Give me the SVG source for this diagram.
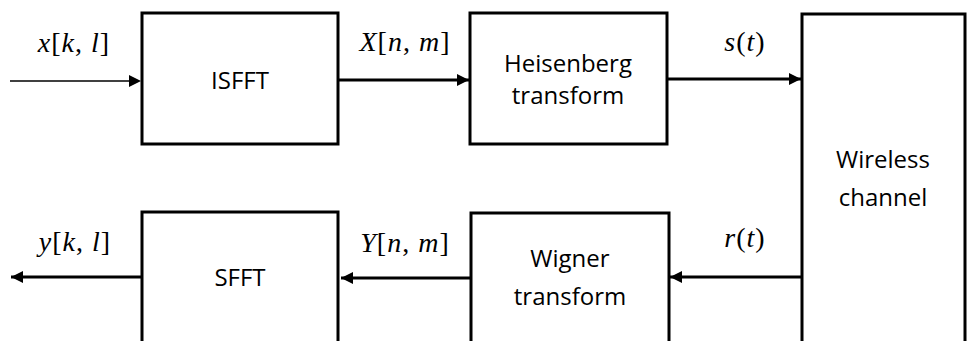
<svg xmlns="http://www.w3.org/2000/svg" width="967" height="341" viewBox="0 0 967 341">
<style>
.box{fill:#fff;stroke:#000;stroke-width:3}
.lbl{font-family:"Open Sans","Liberation Sans",Arial,sans-serif;font-size:24px;fill:#000;text-anchor:middle}
.math{font-family:"Liberation Serif","Times New Roman",serif;font-size:28px;letter-spacing:1px;fill:#000;text-anchor:middle}
.i{font-style:italic}
.c{stroke:#000;stroke-width:3;fill:none}
</style>
<defs>
<marker id="ah" viewBox="0 0 10 10" refX="10" refY="5" markerWidth="12" markerHeight="12" markerUnits="userSpaceOnUse" orient="auto">
<path d="M0,0 L10,5 L0,10 z" fill="#000"/>
</marker>
</defs>
<g id="connectors">
<line class="c" x1="10" y1="81" x2="131" y2="81" style="stroke-width:1.5"/>
<path d="M129,75 L141,81 L129,87 z" fill="#000"/>
<line class="c" x1="338" y1="80" x2="469" y2="80" marker-end="url(#ah)"/>
<line class="c" x1="667" y1="79" x2="801" y2="79" marker-end="url(#ah)"/>
<line class="c" x1="802" y1="277" x2="670" y2="277" marker-end="url(#ah)"/>
<line class="c" x1="471" y1="278" x2="341" y2="278" marker-end="url(#ah)"/>
<line class="c" x1="142" y1="277" x2="11" y2="277" marker-end="url(#ah)"/>
</g>
<g id="isfft"><rect class="box" x="142" y="13" width="196" height="131"/><text class="lbl" x="240" y="89">ISFFT</text></g>
<g id="heisenberg"><rect class="box" x="470" y="13" width="197" height="131"/><text class="lbl" x="568" y="72">Heisenberg</text><text class="lbl" x="568" y="104">transform</text></g>
<g id="channel"><rect class="box" x="802" y="14" width="163" height="340"/><text class="lbl" x="883" y="168">Wireless</text><text class="lbl" x="883" y="206">channel</text></g>
<g id="wigner"><rect class="box" x="471" y="213" width="198" height="140"/><text class="lbl" x="570" y="267">Wigner</text><text class="lbl" x="570" y="305">transform</text></g>
<g id="sfft"><rect class="box" x="142" y="212" width="196" height="140"/><text class="lbl" x="240" y="286">SFFT</text></g>
<g id="labels">
<text class="math" x="74" y="52"><tspan class="i">x</tspan>[<tspan class="i">k</tspan>, <tspan class="i">l</tspan>]</text>
<text class="math" x="405" y="51"><tspan class="i">X</tspan>[<tspan class="i">n</tspan>, <tspan class="i">m</tspan>]</text>
<text class="math" x="745" y="51"><tspan class="i">s</tspan>(<tspan class="i">t</tspan>)</text>
<text class="math" x="745" y="247"><tspan class="i">r</tspan>(<tspan class="i">t</tspan>)</text>
<text class="math" x="405" y="252"><tspan class="i">Y</tspan>[<tspan class="i">n</tspan>, <tspan class="i">m</tspan>]</text>
<text class="math" x="75" y="251"><tspan class="i">y</tspan>[<tspan class="i">k</tspan>, <tspan class="i">l</tspan>]</text>
</g>
</svg>
